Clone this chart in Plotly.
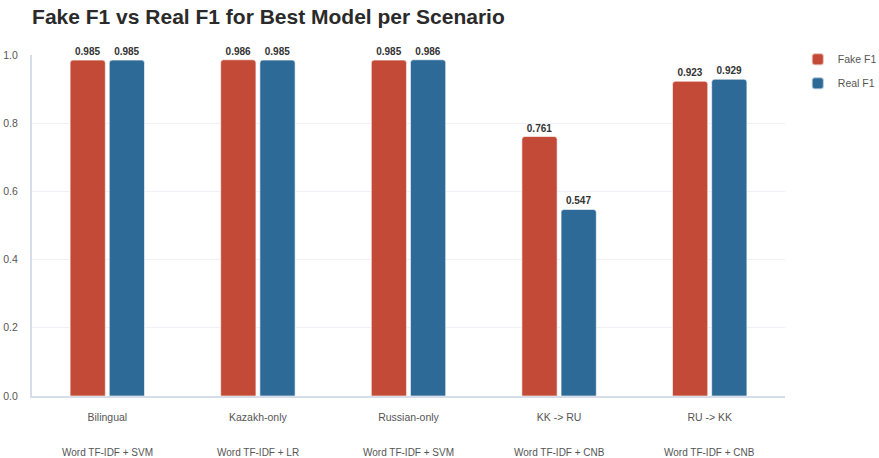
import plotly.graph_objects as go

scenarios = ["Bilingual", "Kazakh-only", "Russian-only", "KK -> RU", "RU -> KK"]
best_models = ["Word TF-IDF + SVM", "Word TF-IDF + LR", "Word TF-IDF + SVM",
               "Word TF-IDF + CNB", "Word TF-IDF + CNB"]
fake_f1 = [0.985, 0.986, 0.985, 0.761, 0.923]
real_f1 = [0.985, 0.985, 0.986, 0.547, 0.929]
y_ticks = [0.0, 0.2, 0.4, 0.6, 0.8, 1.0]

FONT = "Liberation Sans, Arial, sans-serif"
label_font = dict(family=FONT, size=10, color="#333333")

fig = go.Figure()
fig.add_trace(go.Bar(
    name="Fake F1", x=scenarios, y=fake_f1, legendgroup="fake",
    marker=dict(color="#C34A36", cornerradius=3, line=dict(color="rgba(255,255,255,0.6)", width=1)),
    text=[f"<b>{v:.3f}</b>" for v in fake_f1], textposition="outside",
    textfont=label_font, cliponaxis=False,
))
fig.add_trace(go.Bar(
    name="Real F1", x=scenarios, y=real_f1, legendgroup="real",
    marker=dict(color="#2D6A98", cornerradius=3, line=dict(color="rgba(255,255,255,0.6)", width=1)),
    text=[f"<b>{v:.3f}</b>" for v in real_f1], textposition="outside",
    textfont=label_font, cliponaxis=False,
))

# second line under each category: the best model name
for s, m in zip(scenarios, best_models):
    fig.add_annotation(
        x=s, xref="x", y=0, yref="paper", yshift=-56,
        text=m, showarrow=False, xanchor="center", yanchor="middle",
        font=dict(family=FONT, size=10, color="#555555"),
    )

fig.update_layout(
    width=879, height=458,
    margin=dict(l=32, r=94, t=55, b=62, autoexpand=False),
    paper_bgcolor="white", plot_bgcolor="white",
    font=dict(family=FONT, color="#555555", size=10.5),
    title=dict(
        text="<b>Fake F1 vs Real F1 for Best Model per Scenario</b>",
        x=0.0365, xanchor="left", y=0.964, yanchor="middle",
        font=dict(size=21, color="#2a2a2a"),
    ),
    barmode="group", bargap=0.48, bargroupgap=0.1,
    legend=dict(
        x=1.017, xanchor="left", y=1.03, yanchor="top",
        font=dict(size=10.5, color="#555555"),
        itemsizing="constant", traceorder="grouped", tracegroupgap=5,
    ),
    showlegend=True,
)
fig.update_xaxes(
    tickvals=scenarios, ticktext=scenarios, automargin=False,
    showline=True, linecolor="#d6dde8", linewidth=2,
    showgrid=False, ticks="", ticklabelstandoff=10,
    tickfont=dict(size=10.5, color="#555555"),
)
fig.update_yaxes(
    range=[0, 1.0], tickvals=y_ticks, ticktext=[f"{v:.1f}" for v in y_ticks],
    automargin=False,
    showline=True, linecolor="#d6dde8", linewidth=2,
    showgrid=True, gridcolor="#f0f1f6", gridwidth=1, zeroline=False,
    ticks="", ticklabelstandoff=10, tickfont=dict(size=10.5, color="#555555"),
)

fig.write_html("out.html")
